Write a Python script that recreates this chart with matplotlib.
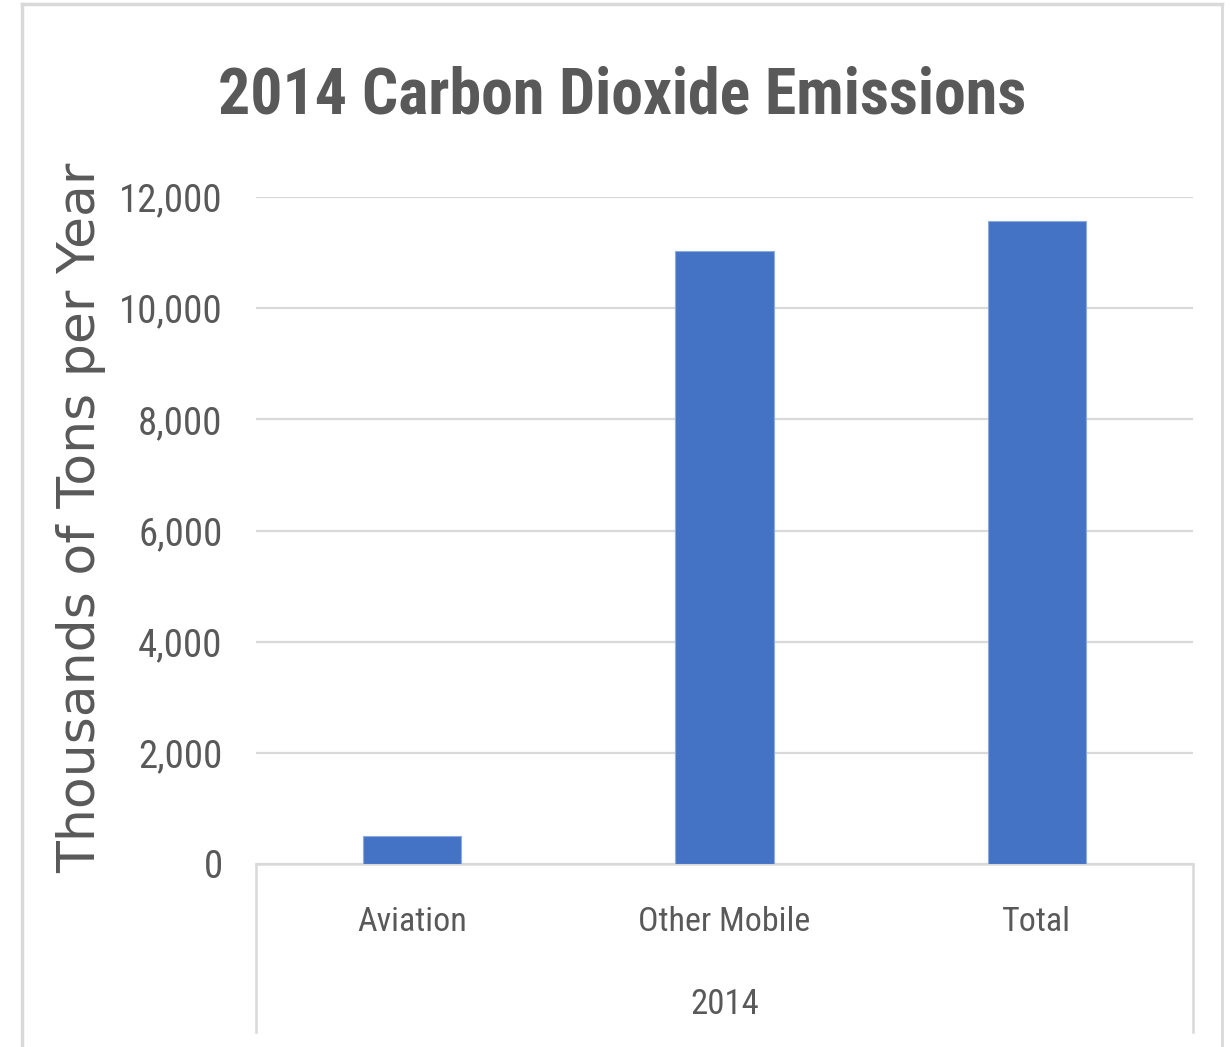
import matplotlib
matplotlib.use("Agg")
import matplotlib.pyplot as plt
from matplotlib import font_manager
from matplotlib.lines import Line2D

categories = ["Aviation", "Other Mobile", "Total"]
emissions = [510, 11020, 11560]
group_label = "2014"
yticks = [0, 2000, 4000, 6000, 8000, 10000, 12000]

TEXT = "#595959"
GRID = "#D9D9D9"
BAR = "#4472C4"

installed = {f.name for f in font_manager.fontManager.ttflist}


def pick(*names):
    for n in names:
        if n in installed:
            return n
    return "DejaVu Sans"


narrow = pick("Roboto Condensed", "Liberation Sans Narrow", "DejaVu Sans Condensed")
wide = pick("DejaVu Sans")

fig = plt.figure(figsize=(12.3, 10.47), dpi=100)
W, H = 1230, 1047

# outer chart frame
frame_top = 1 - 4 / H
fig.add_artist(Line2D([22 / W, 22 / W], [0, frame_top], color=GRID, lw=2.5))
fig.add_artist(Line2D([22 / W, 1222 / W], [frame_top, frame_top], color=GRID, lw=2.5))
fig.add_artist(Line2D([1222 / W, 1222 / W], [0, frame_top], color=GRID, lw=2.0))

left, right = 256 / W, 1193 / W
bottom, top = 1 - 864 / H, 1 - 197 / H
ax = fig.add_axes([left, bottom, right - left, top - bottom])

x = list(range(len(categories)))
ax.bar(x, emissions, width=0.314, color=BAR, edgecolor="#8FAADC", linewidth=0.8, zorder=3)
ax.set_xlim(-0.5, len(categories) - 0.5)
ax.set_ylim(0, 12000)

ax.set_yticks(yticks)
ax.set_yticklabels([f"{v:,}" for v in yticks], fontfamily=narrow, fontsize=28, color=TEXT)
ax.tick_params(axis="y", length=0, pad=24)
ax.grid(axis="y", color=GRID, linewidth=1.6, zorder=0)
ax.set_axisbelow(True)

ax.set_xticks(x)
ax.set_xticklabels(categories, fontfamily=narrow, fontsize=24.5, color=TEXT)
ax.tick_params(axis="x", length=0, pad=30)

for s in ["top", "right", "left"]:
    ax.spines[s].set_visible(False)
ax.spines["bottom"].set_color(GRID)
ax.spines["bottom"].set_linewidth(1.8)

# two-level category axis frame
lower = (1 - 1032 / H - bottom) / (top - bottom)
for xa in (0, 1):
    ax.add_line(Line2D([xa, xa], [0, lower], transform=ax.transAxes, color=GRID,
                       lw=1.8, clip_on=False))
ax.text(0.5, (1 - 1005 / H - bottom) / (top - bottom), group_label, transform=ax.transAxes,
        ha="center", va="center", fontfamily=narrow, fontsize=25, color=TEXT)

ax.set_ylabel("Thousands of Tons per Year", fontfamily=wide, fontsize=37.5, color=TEXT)
ax.yaxis.set_label_coords((106 / W - left) / (right - left), (1 - 518 / H - bottom) / (top - bottom))

fig.text(622 / W, 1 - 96 / H, "2014 Carbon Dioxide Emissions", ha="center", va="center",
         fontfamily=narrow, fontweight="bold", fontsize=46, color=TEXT)

fig.savefig("out.png", dpi=100, facecolor="white")
